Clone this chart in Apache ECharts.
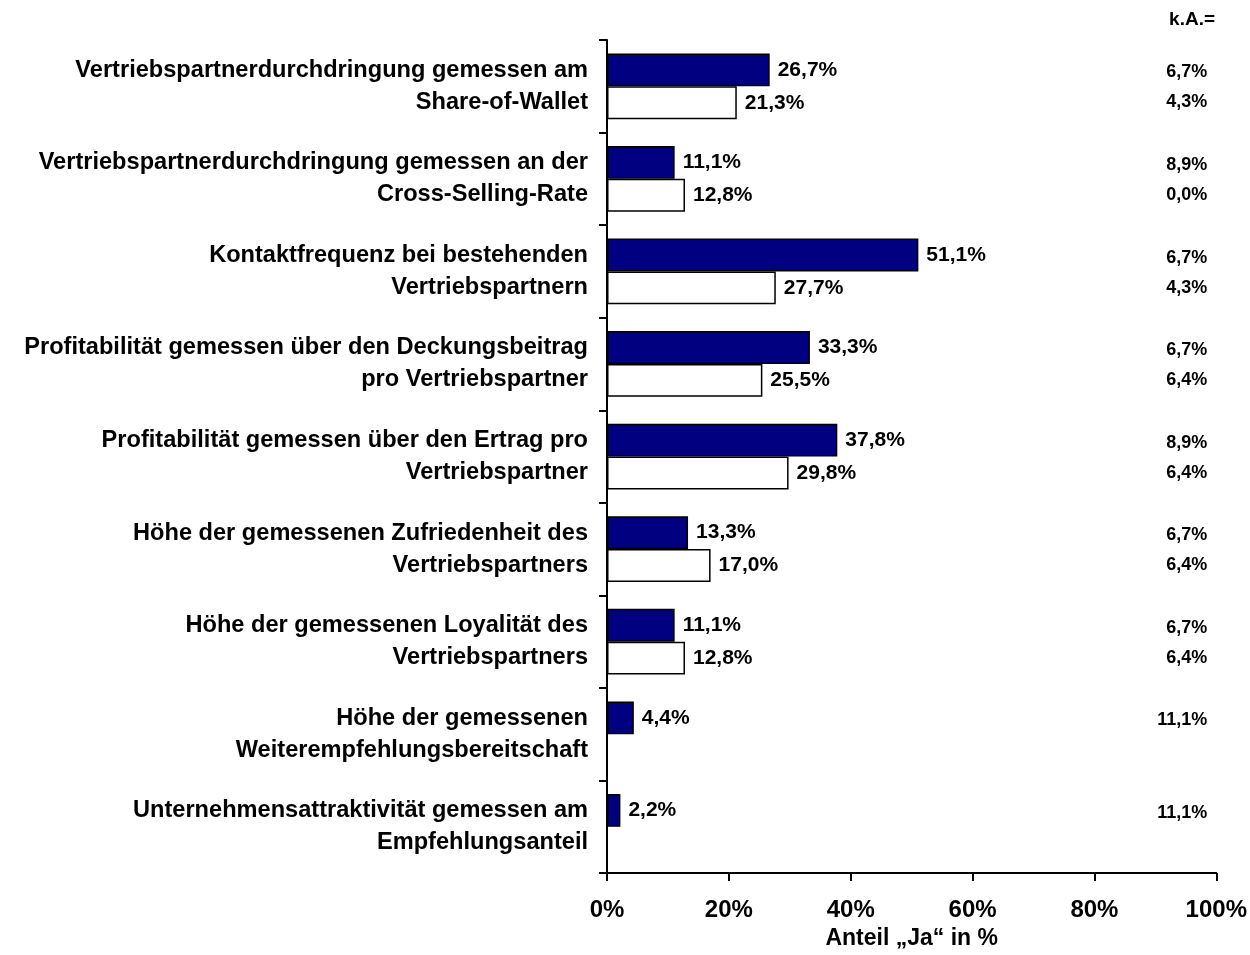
<!DOCTYPE html>
<html>
<head>
<meta charset="utf-8">
<script src="https://cdn.jsdelivr.net/npm/echarts@6/dist/echarts.min.js"></script>
<style>
  html, body { margin: 0; padding: 0; background: #fff; }
  #chart { width: 1250px; height: 955px; }
</style>
</head>
<body>
<div id="chart"></div>
<script>
const categories = [
  'Vertriebspartnerdurchdringung gemessen am\nShare-of-Wallet',
  'Vertriebspartnerdurchdringung gemessen an der\nCross-Selling-Rate',
  'Kontaktfrequenz bei bestehenden\nVertriebspartnern',
  'Profitabilität gemessen über den Deckungsbeitrag\npro Vertriebspartner',
  'Profitabilität gemessen über den Ertrag pro\nVertriebspartner',
  'Höhe der gemessenen Zufriedenheit des\nVertriebspartners',
  'Höhe der gemessenen Loyalität des\nVertriebspartners',
  'Höhe der gemessenen\nWeiterempfehlungsbereitschaft',
  'Unternehmensattraktivität gemessen am\nEmpfehlungsanteil',
]
const navyValues = [26.7, 11.1, 51.1, 33.3, 37.8, 13.3, 11.1, 4.4, 2.2]
const whiteValues = [21.3, 12.8, 27.7, 25.5, 29.8, 17.0, 12.8, null, null]
const kaNavy = [6.7, 8.9, 6.7, 6.7, 8.9, 6.7, 6.7, 11.1, 11.1]
const kaWhite = [4.3, 0.0, 4.3, 6.4, 6.4, 6.4, 6.4, null, null]
const xTicks = [0, 20, 40, 60, 80, 100]

const FONT = '"Liberation Sans", Arial, Helvetica, sans-serif'
const fmt = (v) => v.toFixed(1).replace('.', ',') + '%'

// k.A. column: text placed on the category rows, right side of the plot
function kaSeries(values, shift) {
  return {
    type: 'custom',
    silent: true,
    encode: { x: 1, y: 0 },
    data: values.map((v, i) => [i, v]).filter((d) => d[1] != null),
    renderItem: (params, api) => {
      const pt = api.coord([100, api.value(0)])
      const bw = api.size([0, 1])[1]
      return {
        type: 'text',
        x: pt[0] - 9,
        y: pt[1] + shift * bw,
        style: {
          text: fmt(api.value(1)),
          textAlign: 'right',
          textVerticalAlign: 'middle',
          font: 'bold 18px ' + FONT,
          fill: '#000',
        },
      }
    },
  }
}

const barLabel = {
  show: true,
  position: 'right',
  distance: 8,
  color: '#000',
  fontFamily: FONT,
  fontWeight: 'bold',
  fontSize: 21,
  formatter: (p) => fmt(p.value),
}

const chart = echarts.init(document.getElementById('chart'))
chart.setOption({
  animation: false,
  backgroundColor: '#fff',
  grid: { left: 607, right: 31, top: 40, bottom: 80, containLabel: false },
  graphic: [{
    type: 'text',
    right: 35,
    top: 10,
    style: { text: 'k.A.=', font: 'bold 19px ' + FONT, fill: '#000' },
  }],
  xAxis: {
    type: 'value',
    min: 0,
    max: 100,
    interval: 20,
    name: 'Anteil „Ja“ in %',
    nameLocation: 'middle',
    nameGap: 51,
    nameTextStyle: { color: '#000', fontFamily: FONT, fontWeight: 'bold', fontSize: 23 },
    axisLine: { show: true, lineStyle: { color: '#000', width: 2 } },
    axisTick: { show: true, length: 8, lineStyle: { color: '#000', width: 2 } },
    axisLabel: {
      margin: 25,
      color: '#000',
      fontFamily: FONT,
      fontWeight: 'bold',
      fontSize: 24,
      formatter: (v) => (xTicks.includes(v) ? v + '%' : ''),
    },
    splitLine: { show: false },
  },
  yAxis: {
    type: 'category',
    inverse: true,
    data: categories,
    axisLine: { show: true, lineStyle: { color: '#000', width: 2 } },
    axisTick: { show: true, length: 8, lineStyle: { color: '#000', width: 2 } },
    axisLabel: {
      margin: 19,
      color: '#000',
      fontFamily: FONT,
      fontWeight: 'bold',
      fontSize: 23.6,
      lineHeight: 32,
      align: 'right',
    },
  },
  series: [
    {
      type: 'bar',
      data: navyValues,
      barGap: '0%',
      barCategoryGap: '29%',
      itemStyle: { color: '#000080', borderColor: '#000', borderWidth: 1.5 },
      label: barLabel,
    },
    {
      type: 'bar',
      data: whiteValues,
      itemStyle: { color: '#fff', borderColor: '#000', borderWidth: 1.5 },
      label: barLabel,
    },
    kaSeries(kaNavy, -0.15),
    kaSeries(kaWhite, 0.175),
  ],
})
</script>
</body>
</html>
